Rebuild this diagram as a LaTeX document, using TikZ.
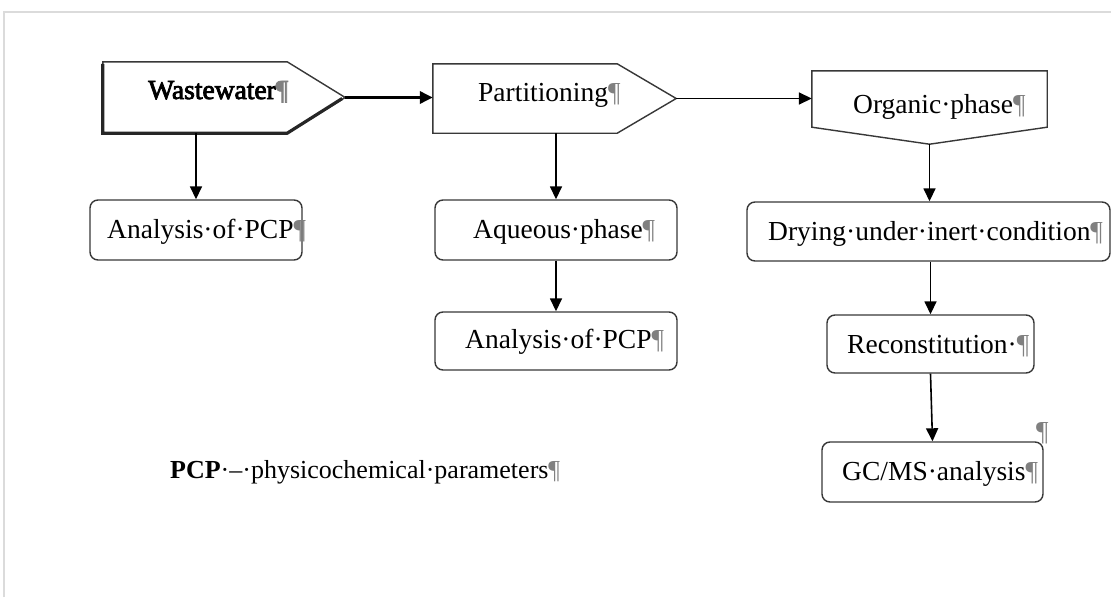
\documentclass[tikz,border=0pt]{standalone}
\usepackage{fontspec}
\setmainfont{Liberation Serif}
\usetikzlibrary{arrows.meta}
\newcommand{\pilc}{{\color{black!50}¶}}
\begin{document}
\begin{tikzpicture}[x=1pt,y=-1pt,
  box/.style={draw=black!78, line width=1.4pt, rounded corners=8pt, inner sep=0pt},
  pent/.style={inner sep=0pt},
  outl/.style={draw=black!78, line width=1.4pt, line join=miter},
  txt/.style={anchor=base west, inner sep=0pt, font=\fontsize{27.5}{30}\selectfont},
  conn/.style={line width=1.6pt, -{Triangle[length=13pt,width=12pt]}},
]
\useasboundingbox (0,0) rectangle (1111,597);
\fill[white] (0,0) rectangle (1111,597);
\draw[black!14, line width=1.5pt] (4,597) -- (4,12) -- (1111,12);

% pentagon-like shapes
\node[pent, minimum width=242pt, minimum height=71pt] (ww) at (224,97.5) {};
\draw[outl] (ww.north west) -- ([xshift=-58pt]ww.north east) -- (ww.east) -- ([xshift=-58pt]ww.south east) -- (ww.south west) -- cycle;
\draw[line width=3.2pt, black!85, line join=miter] ([yshift=-2pt]ww.north west) -- (ww.south west) -- ([xshift=-58pt]ww.south east) -- ([xshift=-3pt,yshift=-1pt]ww.east);

\node[pent, minimum width=243pt, minimum height=69pt] (pt) at (554.5,98.5) {};
\draw[outl] (pt.north west) -- ([xshift=-59pt]pt.north east) -- (pt.east) -- ([xshift=-59pt]pt.south east) -- (pt.south west) -- cycle;

\node[pent, minimum width=235pt, minimum height=73pt] (org) at (929.5,107.5) {};
\draw[outl] (org.north west) -- (org.north east) -- ([yshift=17pt]org.south east) -- (org.south) -- ([yshift=17pt]org.south west) -- cycle;

% rounded boxes
\node[box, minimum width=212pt, minimum height=60pt] (ana1) at (196,230) {};
\node[box, minimum width=242pt, minimum height=60pt] (aq) at (556,230) {};
\node[box, minimum width=242pt, minimum height=58pt] (ana2) at (556,341) {};
\node[box, minimum width=363pt, minimum height=59pt] (dry) at (928.5,231.5) {};
\node[box, minimum width=207pt, minimum height=58pt] (rec) at (930.5,344) {};
\node[box, minimum width=221pt, minimum height=60pt] (gc) at (932.5,472) {};

% texts
\node[txt] (tww) at (148,99) {\addfontfeature{FakeBold=3}Wastewater\pilc};
\node[txt] (tpt) at (478,101) {Partitioning\pilc};
\node[txt] (torg) at (853,113) {Organic·phase\pilc};
\node[txt] (tana1) at (107,238) {Analysis·of·PCP\pilc};
\node[txt] (taq) at (473,238) {Aqueous·phase\pilc};
\node[txt] (tana2) at (465,348) {Analysis·of·PCP\pilc};
\node[txt] (tdry) at (768,240) {Drying·under·inert·condition\pilc};
\node[txt] (trec) at (847,353) {Reconstitution·\pilc};
\node[txt] (tgc) at (842,480) {GC/MS·analysis\pilc};
\node[txt] (tpil) at (1036,440) {\pilc};
\node[txt, font=\fontsize{26}{28}\selectfont] (tleg) at (170,478) {\textbf{PCP}·–·physicochemical·parameters\pilc};

% connectors
\draw[conn, line width=3.5pt] (ww.east) -- (ww.east -| pt.west);
\draw[conn] (pt.east) -- (pt.east -| org.west);
\draw[conn] (ana1.north |- ww.south) -- (ana1.north);
\draw[conn] (aq.north |- pt.south) -- (aq.north);
\draw[conn] (aq.south) -- (ana2.north);
\draw[conn] (org.south) -- (org.south |- dry.north);
\draw[conn] (rec.north |- dry.south) -- (rec.north);
\draw[conn] (rec.south) -- (gc.north);
\end{tikzpicture}
\end{document}
